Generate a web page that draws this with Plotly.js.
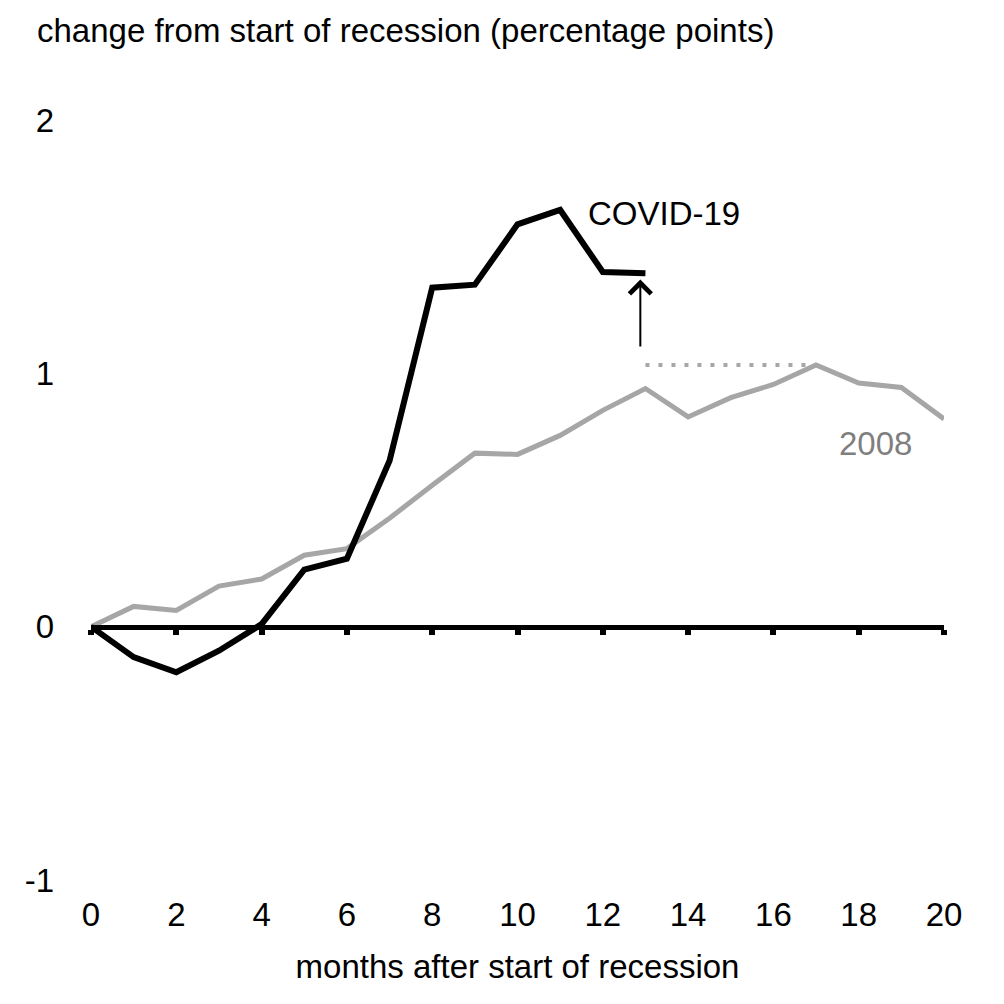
<!DOCTYPE html>
<html>
<head>
<meta charset="utf-8">
<script src="https://cdn.plot.ly/plotly-3.0.1.min.js"></script>
<style>
  html, body { margin: 0; padding: 0; background: #fff; }
  #plot { width: 1004px; height: 1004px; }
</style>
</head>
<body>
<div id="plot"></div>
<script>
// months since the start of each recession
const months = [0, 1, 2, 3, 4, 5, 6, 7, 8, 9, 10, 11, 12, 13, 14, 15, 16, 17, 18, 19, 20];

// change in unemployment rate, percentage points
const covid19 = [0, -0.12, -0.18, -0.095, 0.01, 0.225, 0.268, 0.655, 1.338, 1.35, 1.588, 1.645, 1.40, 1.395];
const gfc2008 = [0, 0.08, 0.064, 0.16, 0.188, 0.282, 0.308, 0.428, 0.558, 0.685, 0.68, 0.755, 0.854, 0.94, 0.828, 0.904, 0.956, 1.033, 0.962, 0.944, 0.82];

const xTicks = [0, 2, 4, 6, 8, 10, 12, 14, 16, 18, 20];
const yTicks = [-1, 0, 1, 2];
const yTickText = ['-1', '0', '1', '2'];

const FONT = '"Liberation Sans", Arial, sans-serif';
const FS = 33;
const GREY = '#a6a6a6';

// the latest covid month compared against the 2008 peak
const lastIdx = covid19.length - 1;
const peak2008 = Math.max(...gfc2008);

const traces = [
    {
        // dotted guide at the 2008 peak level
        x: [months[lastIdx], months[gfc2008.indexOf(peak2008)]],
        y: [peak2008, peak2008],
        mode: 'lines', hoverinfo: 'skip',
        line: { color: GREY, width: 4, dash: '4px,9px' }
    },
    {
        x: months.slice(0, gfc2008.length), y: gfc2008,
        mode: 'lines', name: '2008',
        line: { color: GREY, width: 5 }
    },
    {
        x: months.slice(0, covid19.length), y: covid19,
        mode: 'lines', name: 'COVID-19',
        line: { color: '#000', width: 6 }
    },
    // carries the zero axis drawn across the middle of the plot
    { x: [], y: [], xaxis: 'x2', hoverinfo: 'skip' }
];

const layout = {
    width: 1004, height: 1004,
    paper_bgcolor: '#fff', plot_bgcolor: '#fff',
    font: { family: FONT, size: FS, color: '#000' },
    margin: { l: 91, r: 60, t: 120, b: 124 },
    showlegend: false,
    title: {
        text: 'change from start of recession (percentage points)',
        x: 37 / 1004, xanchor: 'left', xref: 'container',
        y: 1 - 30 / 1004, yanchor: 'middle', yref: 'container',
        font: { family: FONT, size: FS, color: '#000' }
    },
    xaxis: {
        range: [0, 20], tickvals: xTicks, ticks: '', showline: false,
        showgrid: false, zeroline: false, ticklabelstandoff: 12,
        title: { text: 'months after start of recession', standoff: 22, font: { size: FS } }
    },
    xaxis2: {
        overlaying: 'x', anchor: 'free',
        position: (0 - yTicks[0]) / (yTicks[yTicks.length - 1] - yTicks[0]),
        range: [0, 20], tickvals: xTicks, showticklabels: false,
        showline: true, linewidth: 5, linecolor: '#000',
        ticks: 'outside', ticklen: 5, tickwidth: 6, tickcolor: '#000',
        showgrid: false, zeroline: false
    },
    yaxis: {
        range: [yTicks[0], yTicks[yTicks.length - 1]],
        tickvals: yTicks, ticktext: yTickText,
        ticks: '', showline: false, showgrid: false, zeroline: false,
        ticklabelstandoff: 36
    },
    annotations: [
        {
            x: 11.6, y: 1.63, xref: 'x', yref: 'y', xanchor: 'left',
            text: 'COVID-19', showarrow: false,
            font: { family: FONT, size: FS, color: '#000' }
        },
        {
            x: 18.4, y: 0.725, xref: 'x', yref: 'y',
            text: '2008', showarrow: false,
            font: { family: FONT, size: FS, color: '#7f7f7f' }
        },
        {
            x: 12.88, y: 1.37, xref: 'x', yref: 'y',
            ax: 12.88, ay: 1.10, axref: 'x', ayref: 'y',
            text: '', showarrow: true, arrowhead: 4, arrowsize: 2.1,
            arrowwidth: 2, arrowcolor: '#000'
        }
    ]
};

Plotly.newPlot('plot', traces, layout, { displayModeBar: false, staticPlot: true });
</script>
</body>
</html>
